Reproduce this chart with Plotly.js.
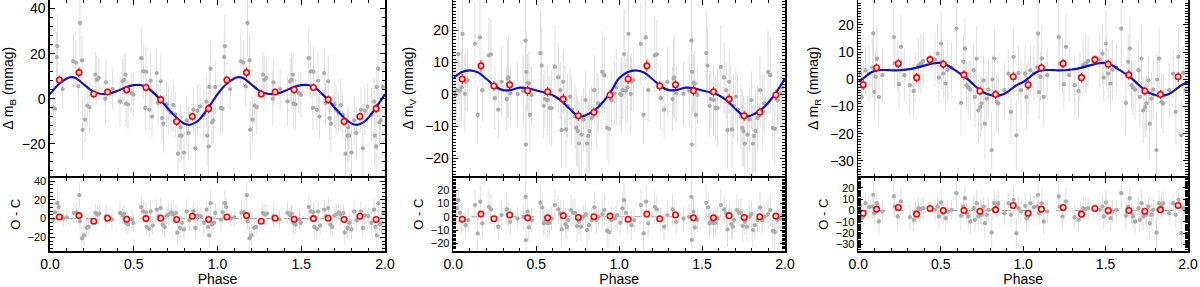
<!DOCTYPE html>
<html>
<head>
<meta charset="utf-8">
<script src="https://cdn.plot.ly/plotly-3.0.1.min.js"></script>
<style>html,body{margin:0;padding:0;background:#fff;}#chart{width:1200px;height:287px;}</style>
</head>
<body>
<div id="chart"></div>
<script>
// ---------------- B filter ----------------
const phaseB = [0.020,0.030,0.044,0.040,0.076,0.139,0.155,0.179,0.169,0.191,
0.195,0.209,0.223,0.235,0.271,0.279,0.291,0.330,0.334,0.374,
0.418,0.434,0.442,0.450,0.454,0.466,0.486,0.498,0.545,0.557,
0.573,0.569,0.593,0.601,0.609,0.637,0.645,0.661,0.669,0.677,
0.697,0.708,0.722,0.736,0.748,0.764,0.776,0.786,0.780,0.800,
0.816,0.828,0.856,0.868,0.880,0.896,0.919,0.935,0.939,0.947,
0.951,0.959,0.967,0.975,0.987];
const magB = [-4.1,-4.5,23.3,18.5,4.3,16.6,16.0,33.6,5.5,17.0,
-13.8,-9.3,-3.1,-3.7,10.7,8.4,9.2,0.0,7.3,4.3,
-1.2,7.7,8.4,10.7,-2.2,-2.5,2.5,1.8,18.0,12.1,
12.0,-4.1,-4.9,8.0,-7.9,11.4,-1.9,7.7,-8.6,-11.1,
-2.5,-4.9,-6.1,-2.8,-7.1,-24.4,-16.4,-16.4,-12.7,-23.9,
-9.6,-15.2,-4.9,-22.0,-5.3,-3.4,-7.1,-1.3,-16.4,-21.2,
5.2,13.3,-10.5,-9.6,5.2];
const errB = [12,10,14,11,9,12,10,15,9,11, 13,10,9,12,10,11,9,12,10,9,
11,10,12,9,10,11,9,10,14,12, 11,10,9,12,10,11,9,12,10,13,
10,11,9,12,10,13,12,11,10,14, 11,12,10,13,11,10,12,11,13,14,
10,12,11,10,12];
const resPhaseB = [0.020,0.030,0.044,0.052,0.080,0.100,0.143,0.159,0.175,0.179,
0.191,0.203,0.219,0.231,0.271,0.283,0.295,0.334,0.370,0.418,
0.434,0.442,0.454,0.466,0.490,0.498,0.545,0.557,0.573,0.577,
0.593,0.601,0.613,0.637,0.649,0.661,0.673,0.685,0.697,0.708,
0.724,0.736,0.752,0.760,0.776,0.788,0.800,0.816,0.832,0.856,
0.868,0.880,0.900,0.919,0.935,0.943,0.951,0.959,0.967,0.979,
0.987];
const resB = [-1.0,6.7,16.5,12.3,0.0,1.4,6.0,6.7,25.0,-2.8,
-21.0,-17.9,-9.8,-8.8,6.0,4.2,5.3,2.5,-1.0,6.0,
3.2,5.3,-4.6,-6.3,-1.0,-4.6,12.3,7.7,6.7,-8.8,
-10.9,7.7,-7.4,9.5,2.5,11.2,-6.3,-8.8,3.2,4.2,
6.7,4.2,6.0,-15.0,-10.0,-4.6,-11.6,7.7,-1.8,7.7,
-10.0,3.2,2.5,-4.6,9.5,-8.8,-17.9,16.5,-6.3,-4.6,
6.0];
const errResB = [11,12,14,10,9,10,12,11,14,9, 12,11,10,9,10,11,9,12,10,11,
9,10,12,10,11,9,13,12,11,10, 9,12,10,11,9,12,10,11,9,12,
10,11,9,13,12,11,10,13,11,10, 12,11,10,12,11,10,13,14,10,11,
12];
const binPhaseB = [0.056,0.173,0.261,0.344,0.458,0.573,0.661,0.756,0.850,0.947];
const binB = [8.3,11.6,2.1,3.0,4.0,5.0,-0.4,-10.1,-7.9,-4.4];
const binResB = [1.8,3.2,-2.8,0.4,-0.7,0.0,0.4,-1.0,2.5,-1.0];
const binErrB = [2.0,2.2,1.8,1.6,1.8,1.7,1.9,2.0,1.8,2.1];
const fitPhaseB = [0,0.05,0.10,0.125,0.15,0.20,0.25,0.30,0.35,0.40,0.45,0.50,0.54,0.58,0.62,0.66,0.70,0.75,0.80,0.83,0.87,0.90,0.95,1.00];
const fitB = [2.0,6.3,9.0,9.6,9.3,6.5,3.5,2.2,2.2,3.4,5.0,6.0,6.1,5.0,2.5,-0.5,-4.0,-8.0,-11.0,-11.6,-10.5,-8.5,-3.5,2.0];

// ---------------- V filter ----------------
const phaseV = [0.006,0.014,0.022,0.030,0.056,0.040,0.050,0.074,0.086,0.070,
0.131,0.147,0.161,0.175,0.215,0.227,0.251,0.271,0.291,0.322,
0.328,0.332,0.344,0.388,0.422,0.436,0.438,0.440,0.448,0.456,
0.462,0.472,0.525,0.533,0.545,0.553,0.569,0.581,0.593,0.613,
0.633,0.645,0.653,0.663,0.673,0.681,0.689,0.704,0.714,0.734,
0.742,0.750,0.758,0.774,0.786,0.798,0.806,0.814,0.822,0.834,
0.850,0.866,0.874,0.898,0.911,0.927,0.939,0.955,0.971,0.983];
const magV = [0.1,-0.2,1.3,12.6,18.9,1.1,2.2,3.9,4.4,0.1,
15.8,-6.4,17.8,1.3,12.2,12.5,-1.2,-4.8,3.9,-1.5,
4.9,5.3,0.3,0.1,1.1,16.8,-15.7,7.0,3.6,3.4,
-6.4,-0.2,12.9,9.0,-3.6,-1.5,-1.8,-4.3,-4.3,8.6,
5.3,1.3,-11.2,3.9,-1.8,-11.0,-3.6,-0.7,-4.8,-6.9,
-10.5,-11.5,-15.4,-12.6,-7.9,-1.8,-15.4,-13.0,-11.5,-7.4,
1.3,-5.4,-2.8,7.0,6.0,-10.5,-10.8,-1.8,0.3,2.2];
const errV = [10,12,9,14,13,10,11,9,10,12, 13,9,14,10,12,11,10,9,11,10,
12,13,9,10,11,14,12,13,9,10, 11,9,13,12,10,9,11,10,12,13,
11,9,12,10,11,12,10,9,11,10, 12,11,13,12,10,9,12,11,13,10,
11,12,9,13,12,10,11,9,10,12];
const resPhaseV = [0.006,0.020,0.030,0.040,0.050,0.074,0.090,0.131,0.147,0.163,
0.175,0.215,0.227,0.251,0.271,0.291,0.322,0.332,0.344,0.388,
0.422,0.436,0.438,0.448,0.456,0.472,0.525,0.537,0.545,0.553,
0.569,0.581,0.593,0.613,0.633,0.645,0.653,0.663,0.677,0.685,
0.693,0.710,0.722,0.734,0.746,0.758,0.770,0.786,0.798,0.806,
0.818,0.834,0.850,0.862,0.874,0.898,0.911,0.927,0.939,0.955,
0.975,0.987];
const resV = [-4.5,6.3,12.5,3.0,-2.5,-6.3,-2.5,8.8,-12.5,11.3,
-5.0,7.5,5.5,-2.0,-7.5,1.3,5.5,2.0,-3.8,-1.3,
0.0,15.0,-17.5,3.8,-8.0,-2.5,10.5,7.0,-5.0,-3.8,
-5.0,-4.5,-1.3,8.8,5.5,2.5,-9.5,2.5,-5.5,-7.5,
-2.5,5.0,3.0,3.0,-7.0,-3.8,-7.5,0.0,2.0,-10.0,
-6.3,-2.5,7.0,-2.5,0.0,2.0,5.0,-10.5,-11.5,-2.5,
-1.3,1.3];
const errResV = [10,12,13,9,10,11,9,12,13,12, 10,12,11,9,10,11,12,9,10,9,
10,13,12,11,10,9,12,11,10,9, 11,10,9,12,11,10,13,9,11,10,
9,12,10,11,12,10,11,9,10,13, 11,9,12,10,9,11,12,13,12,10,
9,11];
const binPhaseV = [0.054,0.167,0.245,0.340,0.448,0.569,0.663,0.754,0.848,0.945];
const binV = [4.8,8.9,2.6,3.0,1.1,0.8,-1.5,-6.7,-5.6,-0.2];
const binResV = [-1.8,2.0,-1.5,1.3,-0.8,-0.8,0.8,-0.5,0.0,0.5];
const binErrV = [1.6,1.8,1.5,1.4,1.6,1.5,1.7,1.6,1.5,1.7];
const fitPhaseV = [0,0.05,0.10,0.15,0.20,0.25,0.30,0.35,0.40,0.45,0.50,0.55,0.60,0.65,0.70,0.75,0.78,0.82,0.87,0.92,0.95,1.00];
const fitV = [5.0,6.9,7.5,6.8,4.8,2.6,1.3,1.4,2.1,1.9,1.2,0.6,-0.3,-2.0,-4.5,-6.7,-6.9,-6.0,-4.2,-1.3,0.8,5.0];

// ---------------- R filter ----------------
const phaseR = [0.012,0.020,0.030,0.044,0.065,0.085,0.091,0.097,0.105,0.113,
0.125,0.146,0.216,0.222,0.239,0.247,0.259,0.279,0.313,0.336,
0.344,0.364,0.380,0.394,0.465,0.481,0.489,0.502,0.506,0.516,
0.530,0.542,0.566,0.595,0.623,0.637,0.647,0.657,0.667,0.679,
0.700,0.708,0.718,0.728,0.740,0.748,0.760,0.768,0.779,0.789,
0.809,0.813,0.825,0.839,0.849,0.886,0.910,0.926,0.942,0.959,
0.971,0.987];
const magR = [2.1,-6.5,-3.1,3.3,2.1,4.3,16.8,-4.7,0.9,7.6,
-6.5,1.5,15.5,5.8,4.8,-1.8,11.9,1.5,-2.2,-4.3,
0.9,5.1,5.8,6.7,7.2,9.4,0.6,13.1,6.4,2.1,
-1.6,3.5,4.3,18.6,-8.7,6.4,11.3,-2.2,-3.1,-3.8,
3.3,-6.5,7.6,-11.4,-10.2,-8.9,-0.4,-16.3,-7.1,-3.8,
-26.0,-0.1,7.6,-8.3,-8.9,-4.0,2.1,-12.0,8.2,-20.6,
2.3,-4.0];
const errR = [11,12,10,9,10,11,13,10,9,12, 11,10,13,9,10,9,12,10,11,10,
9,10,11,9,10,11,9,12,10,9, 10,11,9,14,12,10,11,9,10,11,
10,11,12,12,11,10,9,13,10,11, 14,9,11,10,11,10,9,12,11,13,
10,11];
const resPhaseR = [0.012,0.020,0.030,0.044,0.065,0.085,0.091,0.097,0.113,0.125,
0.146,0.216,0.222,0.239,0.259,0.313,0.336,0.348,0.364,0.380,
0.394,0.465,0.481,0.489,0.502,0.506,0.516,0.530,0.542,0.566,
0.595,0.623,0.637,0.647,0.657,0.667,0.679,0.700,0.708,0.718,
0.728,0.740,0.748,0.760,0.768,0.779,0.789,0.809,0.817,0.825,
0.839,0.849,0.886,0.910,0.926,0.942,0.959,0.971,0.987];
const resR = [4.1,-6.8,-5.3,6.5,2.9,3.5,13.8,-2.4,6.5,-9.7,
-0.9,12.4,3.5,-5.3,8.0,-5.9,-8.2,-0.9,2.0,1.2,
2.0,0.6,3.5,-5.3,7.0,0.6,-2.4,-6.8,-0.9,0.6,
15.3,-4.7,3.5,10.9,-2.4,-5.3,-9.7,2.0,-8.2,6.5,
-5.3,-0.9,-3.8,3.5,-11.2,-3.8,0.6,-19.4,0.6,6.5,
3.5,6.5,-2.4,6.5,-3.8,9.4,-20.0,2.0,-0.9];
const errResR = [11,12,10,9,10,11,13,10,12,11, 10,13,9,10,12,11,10,9,10,9,
10,9,10,11,12,10,9,11,10,9, 14,12,10,11,9,10,11,10,11,12,
12,11,10,9,13,10,11,14,9,11, 10,11,10,9,11,10,13,10,11];
const binPhaseR = [0.030,0.111,0.243,0.354,0.435,0.516,0.641,0.738,0.833,0.940];
const binR = [-2.0,4.2,5.8,0.6,7.2,5.5,1.6,-4.3,-5.6,0.9];
const binResR = [-2.4,1.2,2.6,-3.2,1.8,0.0,0.0,-0.6,0.6,4.4];
const binErrR = [1.8,1.6,1.7,1.8,1.6,1.7,1.8,1.6,1.7,1.8];
const fitPhaseR = [0,0.04,0.08,0.12,0.16,0.20,0.25,0.30,0.35,0.40,0.45,0.49,0.53,0.57,0.62,0.66,0.70,0.75,0.80,0.84,0.88,0.92,0.96,1.00];
const fitR = [-1.0,0.8,2.6,3.3,3.4,3.3,3.3,3.6,4.2,5.0,5.8,6.0,5.4,4.0,2.0,0.2,-2.0,-4.5,-5.8,-6.1,-5.5,-4.0,-2.2,-1.0];

// ---------------- settings ----------------
const FONT = 'Liberation Sans, Arial, Helvetica, sans-serif';
const GRAY = '#ababab', ERRC = '#dedede', BLUE = '#1010c8', RED = '#ff0000';

function twoCycles(arr){ return arr.concat(arr.map(p => p + 1)); }
function dup(arr){ return arr.concat(arr); }
function fitX(arr){ return arr.slice(0, -1).concat(arr.map(p => p + 1)); }
function fitY(arr){ return arr.slice(0, -1).concat(arr); }

const panels = [
  {ph: phaseB, m: magB, e: errB, rph: resPhaseB, r: resB, re: errResB, bp: binPhaseB, b: binB, br: binResB, be: binErrB, fp: fitPhaseB, f: fitB,
   xm: 'x', ym: 'y', xr: 'x2', yr: 'y2', band: 'B', range: [-34.5, 43.8], dt: 20, mdt: 4},
  {ph: phaseV, m: magV, e: errV, rph: resPhaseV, r: resV, re: errResV, bp: binPhaseV, b: binV, br: binResV, be: binErrV, fp: fitPhaseV, f: fitV,
   xm: 'x3', ym: 'y3', xr: 'x4', yr: 'y4', band: 'V', range: [-25.7, 29.5], dt: 10, mdt: 1},
  {ph: phaseR, m: magR, e: errR, rph: resPhaseR, r: resR, re: errResR, bp: binPhaseR, b: binR, br: binResR, be: binErrR, fp: fitPhaseR, f: fitR,
   xm: 'x5', ym: 'y5', xr: 'x6', yr: 'y6', band: 'R', range: [-35.7, 29.1], dt: 10, mdt: 1}
];

const binMarker = {color: '#ffeaea', size: 5.5, line: {color: RED, width: 1.6}};
const traces = [];
panels.forEach(p => {
  traces.push({type: 'scatter', mode: 'markers', xaxis: p.xm, yaxis: p.ym,
    x: twoCycles(p.ph), y: dup(p.m),
    error_y: {type: 'data', array: dup(p.e), visible: true, color: ERRC, thickness: 1, width: 0},
    marker: {color: GRAY, size: 4.3}, showlegend: false, hoverinfo: 'skip'});
  traces.push({type: 'scatter', mode: 'lines', xaxis: p.xm, yaxis: p.ym,
    x: fitX(p.fp), y: fitY(p.f), line: {color: BLUE, width: 2.2, shape: 'spline', smoothing: 1},
    showlegend: false, hoverinfo: 'skip'});
  traces.push({type: 'scatter', mode: 'markers', xaxis: p.xm, yaxis: p.ym,
    x: twoCycles(p.bp), y: dup(p.b),
    error_y: {type: 'data', array: dup(p.be), visible: true, color: RED, thickness: 1, width: 0},
    marker: binMarker, showlegend: false, hoverinfo: 'skip'});
  traces.push({type: 'scatter', mode: 'markers', xaxis: p.xr, yaxis: p.yr,
    x: twoCycles(p.rph), y: dup(p.r),
    error_y: {type: 'data', array: dup(p.re), visible: true, color: ERRC, thickness: 1, width: 0},
    marker: {color: GRAY, size: 4.3}, showlegend: false, hoverinfo: 'skip'});
  traces.push({type: 'scatter', mode: 'markers', xaxis: p.xr, yaxis: p.yr,
    x: twoCycles(p.bp), y: dup(p.br),
    error_y: {type: 'data', array: dup(p.be), visible: true, color: RED, thickness: 1, width: 0},
    marker: binMarker, showlegend: false, hoverinfo: 'skip'});
});

const xDomains = [[50/1200, 385/1200], [453.3/1200, 785/1200], [858.3/1200, 1188/1200]];
const yMain = [1 - 176.5/287, 1];
const yRes = [1 - 251/287, 1 - 177.5/287];

function baseAxis(){
  return {showline: true, linecolor: '#000', linewidth: 1.6, mirror: 'allticks',
    ticks: 'inside', ticklen: 5, tickwidth: 1, tickcolor: '#000',
    showgrid: false, zeroline: false, fixedrange: true};
}

const layout = {
  width: 1200, height: 287,
  margin: {l: 0, r: 0, t: 0, b: 0},
  paper_bgcolor: '#fff', plot_bgcolor: '#fff',
  font: {family: FONT, color: '#000', size: 13},
  showlegend: false,
  shapes: []
};

panels.forEach((p, i) => {
  const n = 2 * i + 1;
  const kx = n === 1 ? 'xaxis' : 'xaxis' + n;
  const ky = n === 1 ? 'yaxis' : 'yaxis' + n;
  const kx2 = 'xaxis' + (n + 1);
  const ky2 = 'yaxis' + (n + 1);
  layout[kx] = Object.assign(baseAxis(), {domain: xDomains[i], anchor: p.ym, range: [0, 2],
    dtick: 0.5, showticklabels: false, minor: {ticks: 'inside', ticklen: 3, dtick: 0.1, tickcolor: '#000'}});
  layout[kx2] = Object.assign(baseAxis(), {domain: xDomains[i], anchor: p.yr, range: [0, 2],
    dtick: 0.5, tickformat: '.1f', tickfont: {size: 14, family: FONT},
    minor: {ticks: 'inside', ticklen: 3, dtick: 0.1, tickcolor: '#000'},
    title: {text: 'Phase', font: {size: 14, family: FONT}, standoff: 2}});
  layout[ky] = Object.assign(baseAxis(), {domain: yMain, anchor: p.xm, range: p.range,
    dtick: p.dt, tickfont: {size: 14, family: FONT},
    minor: {ticks: 'inside', ticklen: 3, dtick: p.mdt, tickcolor: '#000'},
    title: {text: 'Δ m<sub>' + p.band + '</sub> (mmag)', font: {size: 14, family: FONT}, standoff: 8}});
  layout[ky2] = Object.assign(baseAxis(), {domain: yRes, anchor: p.xr, range: p.range,
    dtick: p.dt, tickfont: {size: 11, family: FONT},
    minor: {ticks: 'inside', ticklen: 3, dtick: p.mdt, tickcolor: '#000'},
    title: {text: 'O - C', font: {size: 13, family: FONT}, standoff: 4}});
  layout.shapes.push({type: 'line', xref: p.xr, yref: p.yr, x0: 0, x1: 2, y0: 0, y1: 0,
    layer: 'below', line: {color: '#8a9a9a', width: 1, dash: 'dash'}});
});

Plotly.newPlot('chart', traces, layout, {staticPlot: true, displayModeBar: false});
</script>
</body>
</html>
